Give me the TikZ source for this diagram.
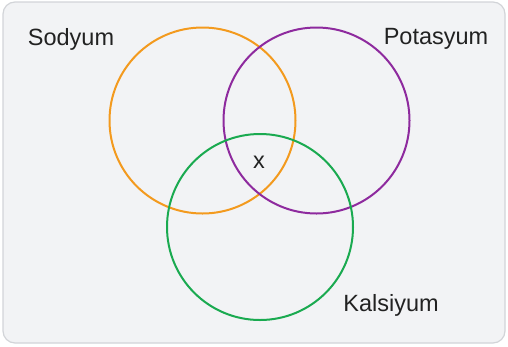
\documentclass[tikz,border=0pt]{standalone}
\usepackage{fontspec}
\setmainfont{Liberation Sans}
\definecolor{bgfill}{HTML}{F2F3F5}
\definecolor{bgline}{HTML}{D2D4D8}
\definecolor{corange}{HTML}{F39A1E}
\definecolor{cpurple}{HTML}{8E2A9E}
\definecolor{cgreen}{HTML}{1AAA50}
\definecolor{txt}{HTML}{222222}
\begin{document}
\begin{tikzpicture}[x=1pt,y=-1pt,
  setring/.style={circle,draw=#1,line width=2pt,minimum size=186pt,inner sep=0pt},
  setlabel/.style={font=\fontsize{23.5}{26}\selectfont,text=txt,inner sep=0pt}]
\useasboundingbox (0,0) rectangle (508,346);
\draw[fill=bgfill,draw=bgline,line width=1.2pt,rounded corners=12pt] (3,2) rectangle (505,343);
\node[setring=corange] (na) at (202.5,120.5) {};
\node[setring=cpurple] (k) at (316.5,120.5) {};
\node[setring=cgreen] (ca) at (260,227) {};
\node[setlabel] (lna) at (71,39) {Sodyum};
\node[setlabel] (lk) at (436,39) {Potasyum};
\node[setlabel] (lca) at (391,305) {Kalsiyum};
\node[setlabel] (x) at (259,162) {x};
\end{tikzpicture}
\end{document}
